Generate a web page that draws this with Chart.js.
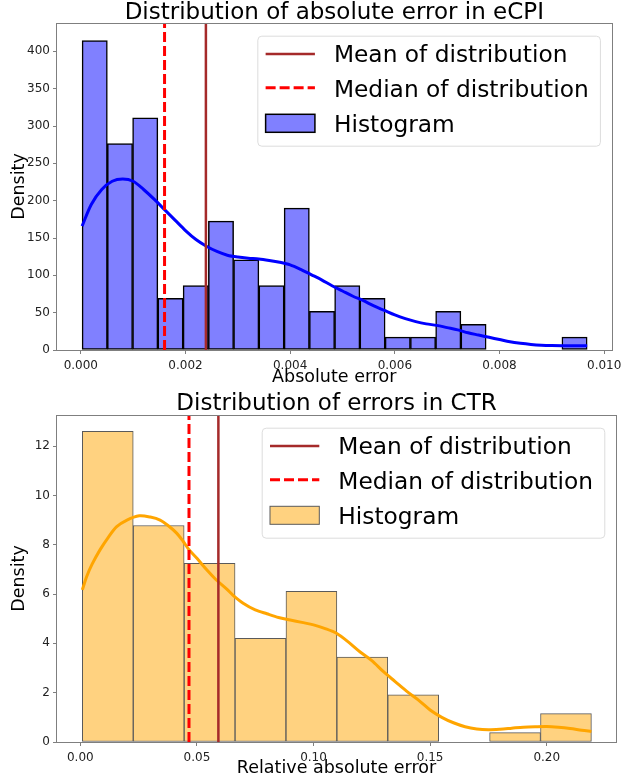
<!DOCTYPE html>
<html>
<head>
<meta charset="utf-8">
<title>Error distributions</title>
<script src="https://cdn.jsdelivr.net/npm/chart.js@4.4.1/dist/chart.umd.min.js"></script>
<style>
  html, body { margin: 0; padding: 0; background: #fff; }
  .panel { position: relative; width: 626px; height: 391px; }
  canvas { display: block; }
</style>
</head>
<body>
<div class="panel"><canvas id="ecpi" width="626" height="391"></canvas></div>
<div class="panel"><canvas id="ctr" width="626" height="391"></canvas></div>
<script>
// ---- eCPI: absolute error histogram (density), 20 bins ----
const ecpiBinEdges = [0.0000246, 0.0005071, 0.0009896, 0.0014721, 0.0019546, 0.0024371, 0.0029196,
  0.0034021, 0.0038846, 0.0043671, 0.0048496, 0.0053321, 0.0058146, 0.0062971, 0.0067796,
  0.0072621, 0.0077446, 0.0082271, 0.0087096, 0.0091921, 0.0096746];
const ecpiDensity = [414.5, 276.4, 310.9, 69.1, 86.4, 172.7, 120.9, 86.4, 190.0, 51.8,
  86.4, 69.1, 17.3, 17.3, 51.8, 34.5, null, null, null, 17.3];
const ecpiKdeX = [0.0000246, 0.0002, 0.0004, 0.0006, 0.0008, 0.001, 0.0012, 0.0014, 0.0016, 0.0018,
  0.002, 0.0022, 0.0024, 0.0026, 0.0028, 0.003, 0.0032, 0.0034, 0.0036, 0.0038, 0.004, 0.0042,
  0.0044, 0.0046, 0.0048, 0.005, 0.0052, 0.0054, 0.0056, 0.0058, 0.006, 0.0062, 0.0064, 0.0066,
  0.0068, 0.007, 0.0072, 0.0074, 0.0076, 0.0078, 0.008, 0.0082, 0.0084, 0.0086, 0.0088, 0.009,
  0.0092, 0.0094, 0.0096746];
const ecpiKdeY = [166, 195, 215, 226, 229, 226, 215, 202, 188, 174, 160, 148, 139, 132, 127, 124.5,
  123, 122, 120, 117.5, 114, 108, 101, 94, 86, 79, 72, 66, 59, 53, 47, 42, 38, 35, 33, 30, 27, 23,
  20, 17, 14, 11, 9, 7.5, 6.5, 6, 5.8, 5.8, 5.8];
const ecpiMean = 0.00239;
const ecpiMedian = 0.0016;
const ecpiXTicks = [0, 0.002, 0.004, 0.006, 0.008, 0.010];
const ecpiYTicks = [0, 50, 100, 150, 200, 250, 300, 350, 400];

// ---- CTR: relative absolute error histogram (density), 10 bins ----
const ctrBinEdges = [0.00086, 0.02269, 0.04452, 0.06635, 0.08818, 0.11001, 0.13184, 0.15367,
  0.1755, 0.19733, 0.21916];
const ctrDensity = [12.60, 8.78, 7.25, 4.20, 6.11, 3.44, 1.91, null, 0.38, 1.15];
const ctrKdeX = [0.00086, 0.0027, 0.005, 0.0085, 0.012, 0.0156, 0.02, 0.0253, 0.03, 0.0342, 0.038,
  0.0413, 0.044, 0.0466, 0.05, 0.0542, 0.058, 0.0628, 0.0655, 0.07, 0.075, 0.08, 0.085, 0.09,
  0.095, 0.1, 0.105, 0.11, 0.115, 0.12, 0.125, 0.13, 0.135, 0.14, 0.145, 0.15, 0.155, 0.16, 0.165,
  0.17, 0.175, 0.18, 0.185, 0.19, 0.195, 0.2, 0.205, 0.21, 0.215, 0.21916];
const ctrKdeY = [6.17, 6.7, 7.2, 7.8, 8.3, 8.73, 9.0, 9.17, 9.12, 9.0, 8.75, 8.47, 8.15, 7.8, 7.45,
  6.98, 6.6, 6.2, 5.95, 5.62, 5.36, 5.2, 5.05, 4.95, 4.85, 4.75, 4.6, 4.4, 4.05, 3.65, 3.3, 2.85,
  2.45, 2.05, 1.7, 1.3, 1.0, 0.78, 0.62, 0.53, 0.5, 0.52, 0.56, 0.6, 0.62, 0.63, 0.6, 0.55, 0.48,
  0.43];
const ctrMean = 0.0592;
const ctrMedian = 0.0466;
const ctrXTicks = [0, 0.05, 0.10, 0.15, 0.20];
const ctrYTicks = [0, 2, 4, 6, 8, 10, 12];

const legendLabels = ['Mean of distribution', 'Median of distribution', 'Histogram'];

const FONT = '"DejaVu Sans", Verdana, sans-serif';
const SPINE = '#7f7f7f';

// spines on all four sides, drawn over the bars like matplotlib does
const framePlugin = {
  id: 'frame',
  afterDatasetsDraw(chart) {
    const { ctx, chartArea: a } = chart;
    ctx.save();
    ctx.strokeStyle = SPINE;
    ctx.lineWidth = 1;
    ctx.strokeRect(Math.round(a.left) - 0.5, Math.round(a.top) + 0.5,
      Math.round(a.right - a.left) + 1, Math.round(a.bottom - a.top));
    ctx.restore();
  }
};

function titlePlugin(text, baseline) {
  return {
    id: 'plotTitle',
    afterDraw(chart) {
      const { ctx, chartArea: a } = chart;
      ctx.save();
      ctx.font = '23px ' + FONT;
      ctx.fillStyle = '#000';
      ctx.textAlign = 'center';
      ctx.textBaseline = 'alphabetic';
      ctx.fillText(text, (a.left + a.right) / 2, baseline);
      ctx.restore();
    }
  };
}

function legendPlugin(patchFill, patchEdge, patchEdgeWidth) {
  return {
    id: 'boxLegend',
    afterDraw(chart) {
      const { ctx, chartArea: a } = chart;
      const bw = 342.6, bh = 110;
      const bx = a.right - 11.7 - bw, by = a.top + 12.7;
      ctx.save();
      // frame
      ctx.beginPath();
      ctx.roundRect(bx + 0.5, by + 0.5, bw, bh, 4);
      ctx.fillStyle = 'rgba(255,255,255,0.8)';
      ctx.fill();
      ctx.strokeStyle = '#dcdcdc';
      ctx.lineWidth = 1;
      ctx.stroke();
      const hx0 = bx + 8.3, hx1 = bx + 57.6;
      // mean handle
      ctx.beginPath();
      ctx.moveTo(hx0, by + 18.3);
      ctx.lineTo(hx1, by + 18.3);
      ctx.strokeStyle = '#a52a2a';
      ctx.lineWidth = 2.5;
      ctx.stroke();
      // median handle
      ctx.beginPath();
      ctx.setLineDash([10, 4]);
      ctx.moveTo(hx0, by + 52);
      ctx.lineTo(hx1, by + 52);
      ctx.strokeStyle = '#ff0000';
      ctx.lineWidth = 3;
      ctx.stroke();
      ctx.setLineDash([]);
      // histogram patch
      ctx.fillStyle = patchFill;
      ctx.fillRect(hx0, by + 78.6, hx1 - hx0, 18);
      ctx.strokeStyle = patchEdge;
      ctx.lineWidth = patchEdgeWidth;
      ctx.strokeRect(hx0, by + 78.6, hx1 - hx0, 18);
      // labels
      ctx.font = '23.3px ' + FONT;
      ctx.fillStyle = '#000';
      ctx.textAlign = 'left';
      ctx.textBaseline = 'alphabetic';
      legendLabels.forEach((t, i) => ctx.fillText(t, bx + 76.6, by + 26.5 + 35 * i));
      ctx.restore();
    }
  };
}

function makeChart(id, o) {
  const centers = o.edges.slice(0, -1).map((e, i) => (e + o.edges[i + 1]) / 2);
  const bars = centers.map((c, i) => ({ x: c, y: o.density[i] }));
  const kde = o.kdeX.map((x, i) => ({ x, y: o.kdeY[i] }));
  const ticksFont = { family: FONT, size: 12 };
  return new Chart(document.getElementById(id), {
    type: 'bar',
    data: {
      datasets: [
        {
          type: 'line', label: legendLabels[0], order: 1,
          data: [{ x: o.mean, y: 0 }, { x: o.mean, y: o.yMax }],
          borderColor: '#a52a2a', borderWidth: 2.5, pointRadius: 0
        },
        {
          type: 'line', label: legendLabels[1], order: 1,
          data: [{ x: o.median, y: 0 }, { x: o.median, y: o.yMax }],
          borderColor: '#ff0000', borderWidth: 3, borderDash: [10, 4], pointRadius: 0
        },
        {
          type: 'line', label: 'KDE', order: 2,
          data: kde,
          borderColor: o.kdeColor, borderWidth: 3, pointRadius: 0, tension: 0.3
        },
        {
          type: 'bar', label: legendLabels[2], order: 3,
          data: bars,
          backgroundColor: o.barFill, borderColor: o.barEdge, borderWidth: o.barEdgeWidth,
          borderSkipped: false, barPercentage: 1, categoryPercentage: 1
        }
      ]
    },
    options: {
      responsive: false,
      animation: false,
      devicePixelRatio: 1,
      layout: { padding: { left: 0, right: 10, top: o.padTop, bottom: 0 } },
      plugins: { legend: { display: false }, tooltip: { enabled: false }, title: { display: false } },
      scales: {
        x: {
          type: 'linear', offset: false, min: o.xMin, max: o.xMax,
          afterBuildTicks: s => { s.ticks = o.xTicks.map(v => ({ value: v })); },
          afterFit: s => { s.height = o.xAxisHeight; },
          ticks: { font: ticksFont, color: '#222', padding: 4.5, maxRotation: 0, autoSkip: false,
            callback: v => v.toFixed(o.xDigits) },
          grid: { display: true, offset: false, drawOnChartArea: false, drawTicks: true,
            tickLength: 4, color: SPINE, tickColor: SPINE },
          border: { display: false },
          title: { display: true, text: o.xTitle, color: '#000',
            font: { family: FONT, size: 17.5 }, padding: { top: 0, bottom: 3 } }
        },
        y: {
          type: 'linear', min: 0, max: o.yMax,
          afterBuildTicks: s => { s.ticks = o.yTicks.map(v => ({ value: v })); },
          afterFit: s => { s.width = 57; },
          ticks: { font: ticksFont, color: '#222', padding: 3, autoSkip: false,
            callback: v => String(v) },
          grid: { display: true, drawOnChartArea: false, drawTicks: true,
            tickLength: 4, color: SPINE, tickColor: SPINE },
          border: { display: false },
          title: { display: true, text: 'Density', color: '#000',
            font: { family: FONT, size: 17.5 }, padding: { top: 9, bottom: 0 } }
        }
      }
    },
    plugins: [framePlugin, titlePlugin(o.title, o.titleBaseline),
      legendPlugin(o.barFill, o.barEdge, o.barEdgeWidth)]
  });
}

makeChart('ecpi', {
  title: 'Distribution of absolute error in eCPI', titleBaseline: 18.5,
  xTitle: 'Absolute error', padTop: 23, xAxisHeight: 41,
  edges: ecpiBinEdges, density: ecpiDensity, kdeX: ecpiKdeX, kdeY: ecpiKdeY,
  mean: ecpiMean, median: ecpiMedian, xTicks: ecpiXTicks, yTicks: ecpiYTicks, xDigits: 3,
  xMin: -0.000455, xMax: 0.010142, yMax: 438,
  barFill: '#8080ff', barEdge: '#000000', barEdgeWidth: 1.5, kdeColor: '#0000ff'
});

makeChart('ctr', {
  title: 'Distribution of errors in CTR', titleBaseline: 19,
  xTitle: 'Relative absolute error', padTop: 24, xAxisHeight: 40,
  edges: ctrBinEdges, density: ctrDensity, kdeX: ctrKdeX, kdeY: ctrKdeY,
  mean: ctrMean, median: ctrMedian, xTicks: ctrXTicks, yTicks: ctrYTicks, xDigits: 2,
  xMin: -0.01, xMax: 0.2297, yMax: 13.26,
  barFill: '#ffd280', barEdge: '#5a5a5a', barEdgeWidth: 1, kdeColor: '#ffa500'
});
</script>
</body>
</html>
